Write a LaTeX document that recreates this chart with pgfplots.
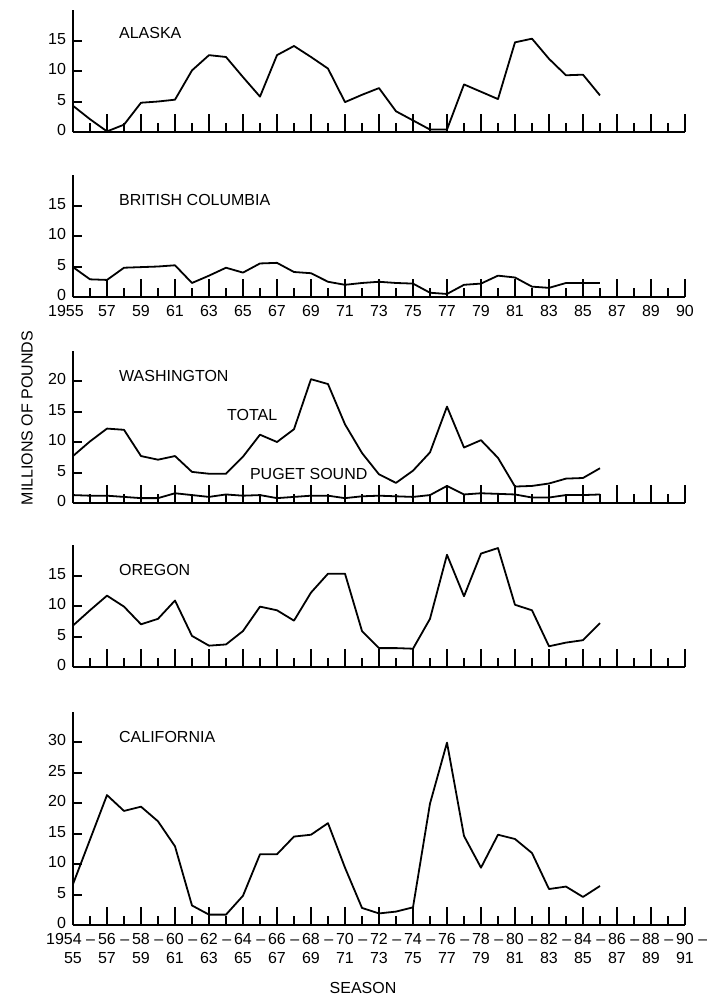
\documentclass[border=0pt]{standalone}
\usepackage{fontspec}
\setmainfont{Liberation Sans}
\usepackage{pgfplots}
\pgfplotsset{compat=1.18}

% season label: number centred on the tick, dash hanging to the right
\newcommand{\sn}[2]{\makebox[0pt]{\phantom{~–}#1~–}\\#2}

\pgfplotsset{
  panel/.style={
    scale only axis, width=306pt, anchor=south west,
    xmin=1955, xmax=1991, ymin=0,
    axis lines=left, axis line style={-, line width=1.2pt},
    clip=false,
    xtick={1955,1957,...,1991}, minor xtick={1956,1958,...,1990},
    tick align=inside,
    major tick length=9.15pt, minor tick length=4.6pt,
    xtick style={line width=1.1pt, black},
    minor tick style={line width=0.8pt, black},
    ytick style={line width=1pt, black, /pgfplots/major tick length=4.5pt},
    ticklabel style={font=\fontsize{8}{9.5}\selectfont},
    yticklabel style={inner ysep=0pt, yshift=0.8pt},
    xticklabel style={inner ysep=0pt, yshift=-4.1pt},
    /pgf/number format/assume math mode=true,
    xticklabels={},
  },
  dat/.style={black, line width=0.9pt, line join=round, mark=none},
}
\tikzset{ttl/.style={anchor=west, font=\fontsize{8}{9}\selectfont}}

\begin{document}
\begin{tikzpicture}
\useasboundingbox (0,0) rectangle (353.5pt,-501.5pt);

% Alaska
\begin{axis}[panel, at={(36.5pt,-66pt)}, height=61pt, ymax=20, ytick={0,5,10,15}]
\addplot[dat] coordinates {(1955,4.3) (1956,2.1) (1957,0.1) (1958,1.2) (1959,4.8) (1960,5.0) (1961,5.3) (1962,10.1) (1963,12.6) (1964,12.3) (1965,9.0) (1966,5.8) (1967,12.6) (1968,14.1) (1969,12.3) (1970,10.4) (1971,4.9) (1972,6.1) (1973,7.2) (1974,3.4) (1975,1.9) (1976,0.4) (1977,0.4) (1978,7.8) (1979,6.6) (1980,5.4) (1981,14.7) (1982,15.3) (1983,12.0) (1984,9.3) (1985,9.4) (1986,6.0)};
\node[ttl] at (axis cs:1957.3,16.2) {ALASKA};
\end{axis}

% British Columbia
\begin{axis}[panel, at={(36.5pt,-148.5pt)}, height=61pt, ymax=20, ytick={0,5,10,15},
  xticklabels={\makebox[0pt]{\hspace*{-7pt}1955},57,59,61,63,65,67,69,71,73,75,77,79,81,83,85,87,89,90}]
\addplot[dat] coordinates {(1955,4.9) (1956,2.9) (1957,2.8) (1958,4.8) (1959,4.9) (1960,5.0) (1961,5.2) (1962,2.3) (1963,3.5) (1964,4.8) (1965,4.0) (1966,5.5) (1967,5.6) (1968,4.1) (1969,3.9) (1970,2.5) (1971,2.0) (1972,2.3) (1973,2.5) (1974,2.3) (1975,2.2) (1976,0.7) (1977,0.5) (1978,2.0) (1979,2.2) (1980,3.5) (1981,3.2) (1982,1.7) (1983,1.5) (1984,2.3) (1985,2.3) (1986,2.3)};
\node[ttl] at (axis cs:1957.3,15.9) {BRITISH COLUMBIA};
\end{axis}

% Washington
\begin{axis}[panel, at={(36.5pt,-251.5pt)}, height=76.25pt, ymax=25, ytick={0,5,10,15,20}]
\addplot[dat] coordinates {(1955,7.7) (1956,10.1) (1957,12.2) (1958,12.0) (1959,7.7) (1960,7.1) (1961,7.7) (1962,5.1) (1963,4.8) (1964,4.8) (1965,7.6) (1966,11.2) (1967,10.0) (1968,12.1) (1969,20.3) (1970,19.5) (1971,12.9) (1972,8.2) (1973,4.7) (1974,3.3) (1975,5.3) (1976,8.3) (1977,15.8) (1978,9.1) (1979,10.3) (1980,7.4) (1981,2.7) (1982,2.8) (1983,3.2) (1984,4.0) (1985,4.1) (1986,5.7)};
\addplot[dat] coordinates {(1955,1.3) (1956,1.2) (1957,1.2) (1958,1.0) (1959,0.8) (1960,0.8) (1961,1.6) (1962,1.3) (1963,1.0) (1964,1.4) (1965,1.2) (1966,1.3) (1967,0.8) (1968,1.0) (1969,1.2) (1970,1.2) (1971,0.8) (1972,1.1) (1973,1.2) (1974,1.1) (1975,1.0) (1976,1.3) (1977,2.8) (1978,1.4) (1979,1.6) (1980,1.5) (1981,1.4) (1982,0.9) (1983,0.9) (1984,1.3) (1985,1.3) (1986,1.4)};
\node[ttl] at (axis cs:1957.3,20.9) {WASHINGTON};
\node[ttl] at (axis cs:1963.65,14.4) {TOTAL};
\node[ttl] at (axis cs:1965.0,4.8) {PUGET SOUND};
\end{axis}

% Oregon
\begin{axis}[panel, at={(36.5pt,-333.5pt)}, height=61pt, ymax=20, ytick={0,5,10,15}]
\addplot[dat] coordinates {(1955,6.8) (1956,9.3) (1957,11.7) (1958,9.9) (1959,7.0) (1960,7.9) (1961,10.9) (1962,5.1) (1963,3.5) (1964,3.7) (1965,5.9) (1966,9.9) (1967,9.3) (1968,7.6) (1969,12.2) (1970,15.3) (1971,15.3) (1972,5.9) (1973,3.1) (1974,3.1) (1975,3.0) (1976,7.9) (1977,18.4) (1978,11.6) (1979,18.6) (1980,19.5) (1981,10.2) (1982,9.3) (1983,3.4) (1984,4.0) (1985,4.4) (1986,7.2)};
\node[ttl] at (axis cs:1957.3,15.9) {OREGON};
\end{axis}

% California
\begin{axis}[panel, at={(36.5pt,-462.5pt)}, height=106.75pt, ymax=35, ytick={0,5,...,30},
  xticklabel style={align=center},
  xticklabels={{\makebox[0pt]{\hspace*{-9pt}\phantom{~–}1954~–}\\55},{\sn{56}{57}},{\sn{58}{59}},{\sn{60}{61}},{\sn{62}{63}},{\sn{64}{65}},{\sn{66}{67}},{\sn{68}{69}},{\sn{70}{71}},{\sn{72}{73}},{\sn{74}{75}},{\sn{76}{77}},{\sn{78}{79}},{\sn{80}{81}},{\sn{82}{83}},{\sn{84}{85}},{\sn{86}{87}},{\sn{88}{89}},{\sn{90}{91}}}]
\addplot[dat] coordinates {(1955,6.7) (1956,14.0) (1957,21.3) (1958,18.7) (1959,19.4) (1960,17.0) (1961,12.9) (1962,3.2) (1963,1.7) (1964,1.7) (1965,4.8) (1966,11.6) (1967,11.6) (1968,14.5) (1969,14.8) (1970,16.7) (1971,9.4) (1972,2.8) (1973,1.9) (1974,2.2) (1975,2.9) (1976,19.9) (1977,29.9) (1978,14.6) (1979,9.4) (1980,14.8) (1981,14.1) (1982,11.8) (1983,5.9) (1984,6.3) (1985,4.6) (1986,6.4)};
\node[ttl] at (axis cs:1957.3,30.9) {CALIFORNIA};
\end{axis}

\node[rotate=90, font=\fontsize{8}{9}\selectfont] at (13.5pt,-209pt) {MILLIONS OF POUNDS};
\node[font=\fontsize{8}{9}\selectfont] at (181.5pt,-494pt) {SEASON};
\end{tikzpicture}
\end{document}
